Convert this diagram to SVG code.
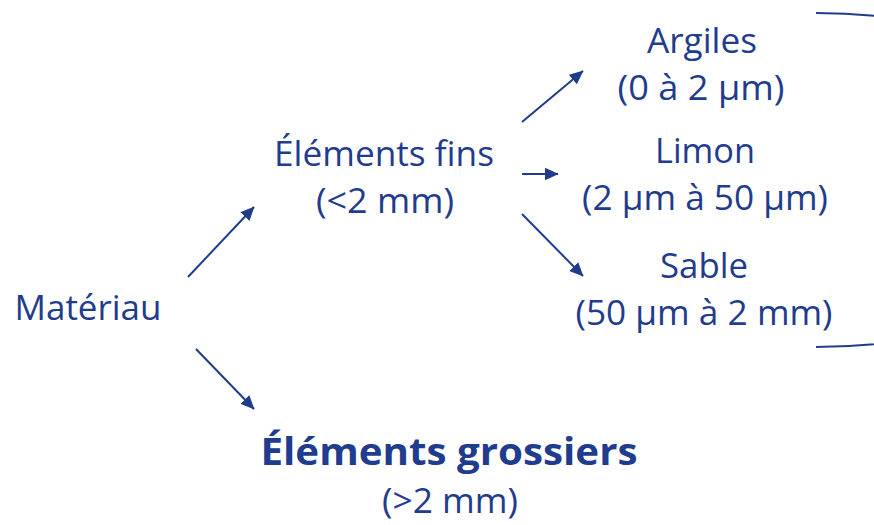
<svg xmlns="http://www.w3.org/2000/svg" width="874" height="525" viewBox="0 0 874 525">
<defs>
<style>
.t{font-family:"Open Sans","Noto Sans","Liberation Sans",sans-serif;font-size:35px;fill:#1F3C8E;text-anchor:middle}
.b{font-weight:bold;font-size:38px}
.c{stroke:#1F3C8E;stroke-width:2;fill:none}
</style>
<marker id="a" viewBox="0 0 10 10" refX="9.5" refY="5" markerWidth="7" markerHeight="7" orient="auto">
<path d="M0,0.5 L10,5 L0,9.5 Z" fill="#1F3C8E"/>
</marker>
</defs>
<rect width="874" height="525" fill="#ffffff"/>
<g id="connectors">
<line class="c" x1="188" y1="277" x2="254" y2="207" marker-end="url(#a)"/>
<line class="c" x1="196" y1="349" x2="254" y2="409" marker-end="url(#a)"/>
<line class="c" x1="522" y1="122" x2="583" y2="71" marker-end="url(#a)"/>
<line class="c" x1="522" y1="174" x2="558" y2="174" marker-end="url(#a)"/>
<line class="c" x1="522" y1="214" x2="583" y2="276" marker-end="url(#a)"/>
<path class="c" d="M816,13 A324 167 0 0 1 816,347"/>
</g>
<g id="materiau"><text class="t" x="88" y="320" textLength="147" lengthAdjust="spacingAndGlyphs">Matériau</text></g>
<g id="fins">
<text class="t" x="384" y="166" textLength="220" lengthAdjust="spacingAndGlyphs">Éléments fins</text>
<text class="t" x="385" y="213" textLength="138" lengthAdjust="spacingAndGlyphs">(&lt;2 mm)</text>
</g>
<g id="argiles">
<text class="t" x="702" y="53" textLength="110" lengthAdjust="spacingAndGlyphs">Argiles</text>
<text class="t" x="701" y="100" textLength="167" lengthAdjust="spacingAndGlyphs">(0 à 2 µm)</text>
</g>
<g id="limon">
<text class="t" x="705" y="163" textLength="100" lengthAdjust="spacingAndGlyphs">Limon</text>
<text class="t" x="705" y="210" textLength="246" lengthAdjust="spacingAndGlyphs">(2 µm à 50 µm)</text>
</g>
<g id="sable">
<text class="t" x="704" y="278" textLength="88" lengthAdjust="spacingAndGlyphs">Sable</text>
<text class="t" x="704" y="325" textLength="257" lengthAdjust="spacingAndGlyphs">(50 µm à 2 mm)</text>
</g>
<g id="grossiers">
<text class="t b" x="449" y="465" textLength="377" lengthAdjust="spacingAndGlyphs">Éléments grossiers</text>
<text class="t" x="450" y="513" textLength="136" lengthAdjust="spacingAndGlyphs">(&gt;2 mm)</text>
</g>
</svg>
